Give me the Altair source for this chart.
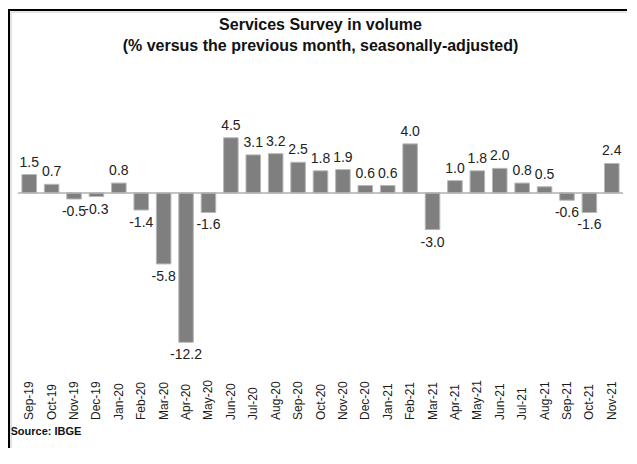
import altair as alt
import pandas as pd

months = ["Sep-19", "Oct-19", "Nov-19", "Dec-19", "Jan-20", "Feb-20", "Mar-20", "Apr-20",
          "May-20", "Jun-20", "Jul-20", "Aug-20", "Sep-20", "Oct-20", "Nov-20", "Dec-20",
          "Jan-21", "Feb-21", "Mar-21", "Apr-21", "May-21", "Jun-21", "Jul-21", "Aug-21",
          "Sep-21", "Oct-21", "Nov-21"]
values = [1.5, 0.7, -0.5, -0.3, 0.8, -1.4, -5.8, -12.2, -1.6, 4.5, 3.1, 3.2, 2.5, 1.8,
          1.9, 0.6, 0.6, 4.0, -3.0, 1.0, 1.8, 2.0, 0.8, 0.5, -0.6, -1.6, 2.4]

title_lines = ["Services Survey in volume", "(% versus the previous month, seasonally-adjusted)"]
source_text = "Source: IBGE"

df = pd.DataFrame({"month": months, "value": values})
df["label"] = [f"{v:.1f}" for v in values]

FONT = "Liberation Sans"

x_enc = alt.X("month:N", sort=months,
              scale=alt.Scale(paddingInner=0.35, paddingOuter=0.175),
              axis=alt.Axis(title=source_text, labelAngle=270, labelAlign="left",
                            labelBaseline="middle", labelPadding=49, labelFontSize=12,
                            labelFont=FONT, labelColor="#1a1a1a", domain=False, ticks=False,
                            grid=False, titleFont=FONT, titleFontSize=11,
                            titleFontWeight="bold", titleColor="#111111",
                            titleAnchor="start", titleAlign="left", titleX=-8, titleY=61,
                            titleBaseline="middle"))
y_scale = alt.Scale(domain=[-14.5, 7.5], nice=False, zero=True)
y_enc = alt.Y("value:Q", scale=y_scale, axis=None)

base = alt.Chart(df)

bars = base.mark_bar(color="#7f7f7f", stroke="#b8b8b8", strokeWidth=1).encode(x=x_enc, y=y_enc)

pos_labels = base.transform_filter("datum.value >= 0").mark_text(
    baseline="bottom", dy=-5, fontSize=14, font=FONT, color="#222222"
).encode(x=alt.X("month:N", sort=months), y=alt.Y("value:Q"), text="label:N")

neg_labels = base.transform_filter("datum.value < 0").mark_text(
    baseline="top", dy=6, fontSize=14, font=FONT, color="#222222"
).encode(x=alt.X("month:N", sort=months), y=alt.Y("value:Q"), text="label:N")

zero_rule = alt.Chart(pd.DataFrame({"zero": [0]})).mark_rule(
    color="#b0b0b0", strokeWidth=1.5
).encode(y=alt.Y("zero:Q"))

shadow = alt.Chart(pd.DataFrame({"a": [0]})).mark_rect(
    fillOpacity=0, stroke="#c8c8c8", strokeWidth=1
).encode(x=alt.value(-7), x2=alt.value(700), y=alt.value(-89), y2=alt.value(500))

frame = alt.Chart(pd.DataFrame({"a": [0]})).mark_rect(
    fillOpacity=0, stroke="#000000", strokeWidth=2
).encode(x=alt.value(-9), x2=alt.value(700), y=alt.value(-91), y2=alt.value(500))

chart = alt.layer(bars, zero_rule, pos_labels, neg_labels, shadow, frame).properties(
    width=605, height=269.5,
    title=alt.TitleParams(text=title_lines, font=FONT, fontSize=16, fontWeight="bold",
                          color="#111111", anchor="middle", offset=-45, lineHeight=21),
    autosize=alt.AutoSizeParams(type="none"),
    padding={"left": 10, "top": 93, "right": 4, "bottom": 77},
).configure_view(strokeWidth=0, stroke="transparent")

chart.save("out.html", embed_options={"renderer": "svg", "actions": False})
